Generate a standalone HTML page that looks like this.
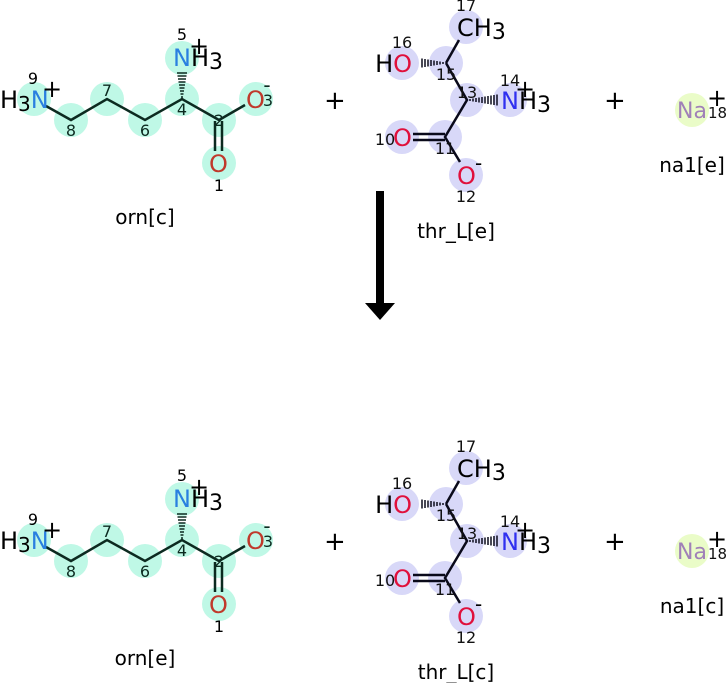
<!DOCTYPE html>
<html><head><meta charset="utf-8"><style>
html,body{margin:0;padding:0;background:#fff;}
svg{display:block;font-family:"DejaVu Sans","Liberation Sans",sans-serif;}
</style></head><body>
<svg width="726" height="683" viewBox="0 0 726 683" xmlns="http://www.w3.org/2000/svg">
<defs>
<g id="orn">
  <g fill="#bff8e6">
    <circle cx="34" cy="99" r="17"/><circle cx="71" cy="120" r="17"/><circle cx="107" cy="99" r="17"/>
    <circle cx="145" cy="120" r="17"/><circle cx="182" cy="99" r="17"/><circle cx="182" cy="58" r="17"/>
    <circle cx="219" cy="120" r="17"/><circle cx="256" cy="99" r="17"/><circle cx="219" cy="163" r="17"/>
  </g>
  <g stroke="#0c2a20" stroke-width="2.5" fill="none">
    <polyline points="46,106 71,120 107,99 145,120 182,99 219,120 245,105"/>
    <line x1="215" y1="121" x2="215" y2="151"/><line x1="222" y1="121" x2="222" y2="151"/>
  </g>
  <g stroke="#0c2a20" stroke-width="1.5">
    <line x1="181" y1="97" x2="183" y2="97"/><line x1="180.5" y1="94" x2="183.5" y2="94"/>
    <line x1="180" y1="91" x2="184" y2="91"/><line x1="179.5" y1="88" x2="184.5" y2="88"/>
    <line x1="179" y1="85" x2="185" y2="85"/><line x1="178.5" y1="82" x2="185.5" y2="82"/>
    <line x1="178" y1="79" x2="186" y2="79"/><line x1="177.5" y1="76" x2="186.5" y2="76"/>
    <line x1="177" y1="73" x2="187" y2="73"/>
  </g>
  <g font-size="24">
    <text x="0" y="108">H<tspan font-size="20" dy="3">3</tspan><tspan fill="#2a7fe0" dy="-3">N</tspan></text>
    <text x="42" y="97">+</text>
    <text x="173" y="66" fill="#2a7fe0">N<tspan fill="#000">H</tspan><tspan fill="#000" font-size="22" dy="3">3</tspan></text>
    <text x="189" y="54">+</text>
    <text x="246" y="108" fill="#c0392b">O</text>
    <text x="209" y="172" fill="#c0392b">O</text>
  </g>
  <g font-size="16" fill="#0c2a20" text-anchor="middle">
    <text x="33" y="84" fill="#000">9</text><text x="71" y="136">8</text><text x="107" y="96">7</text>
    <text x="145" y="136">6</text><text x="182" y="115">4</text><text x="182" y="40" fill="#000">5</text>
    <text x="219" y="126">2</text><text x="268" y="106">3</text><text x="267" y="92" font-size="20">-</text>
    <text x="219" y="191" fill="#000">1</text>
  </g>
</g>
<g id="thr">
  <g fill="#d8d8f8">
    <circle cx="466" cy="27" r="17"/><circle cx="446" cy="63" r="17"/><circle cx="402" cy="63" r="17"/>
    <circle cx="467" cy="100" r="17"/><circle cx="510" cy="100" r="17"/><circle cx="445" cy="137" r="17"/>
    <circle cx="402" cy="137" r="17"/><circle cx="466" cy="175" r="17"/>
  </g>
  <g stroke="#0a0a1a" stroke-width="2.5" fill="none">
    <line x1="459" y1="40" x2="446" y2="63"/><polyline points="446,63 467,100 445,137 460,162"/>
    <line x1="413" y1="134" x2="445" y2="134"/><line x1="413" y1="140" x2="445" y2="140"/>
  </g>
  <g stroke="#0a0a1a" stroke-width="1.5">
    <line x1="443" y1="62" x2="443" y2="64"/><line x1="440" y1="61.5" x2="440" y2="64.5"/>
    <line x1="437" y1="61" x2="437" y2="65"/><line x1="434" y1="60.5" x2="434" y2="65.5"/>
    <line x1="431" y1="60" x2="431" y2="66"/><line x1="428" y1="59.5" x2="428" y2="66.5"/>
    <line x1="425" y1="59" x2="425" y2="67"/><line x1="422" y1="58.5" x2="422" y2="67.5"/>
    <line x1="470" y1="99" x2="470" y2="101"/><line x1="473" y1="98.5" x2="473" y2="101.5"/>
    <line x1="476" y1="98" x2="476" y2="102"/><line x1="479" y1="97.5" x2="479" y2="102.5"/>
    <line x1="482" y1="97" x2="482" y2="103"/><line x1="485" y1="96.5" x2="485" y2="103.5"/>
    <line x1="488" y1="96" x2="488" y2="104"/><line x1="491" y1="95.5" x2="491" y2="104.5"/>
    <line x1="494" y1="95" x2="494" y2="105"/><line x1="497" y1="94.5" x2="497" y2="105.5"/>
  </g>
  <g font-size="24">
    <text x="457" y="36">CH<tspan font-size="22" dy="3">3</tspan></text>
    <text x="412" y="72" text-anchor="end">H<tspan fill="#e0103c">O</tspan></text>
    <text x="501" y="109" fill="#3030f0">N<tspan fill="#000">H</tspan><tspan fill="#000" font-size="22" dy="3">3</tspan></text>
    <text x="515" y="97">+</text>
    <text x="393" y="146" fill="#e0103c">O</text>
    <text x="457" y="184" fill="#e0103c">O</text>
    <text x="475" y="170" font-size="20">-</text>
  </g>
  <g font-size="16" fill="#111" text-anchor="middle">
    <text x="466" y="11">17</text><text x="402" y="48">16</text><text x="446" y="80">15</text>
    <text x="467" y="98">13</text><text x="510" y="86">14</text><text x="385" y="145">10</text>
    <text x="445" y="154">11</text><text x="466" y="202">12</text>
  </g>
</g>
<g id="na">
  <circle cx="692" cy="110" r="17" fill="#eafcc8"/>
  <text x="692" y="118" font-size="22" fill="#a080b8" text-anchor="middle">Na</text>
  <text x="707" y="106" font-size="24">+</text>
  <text x="708" y="118" font-size="15" fill="#111">18</text>
  <text x="324" y="109" font-size="26">+</text>
  <text x="604" y="109" font-size="26">+</text>
</g>
</defs>
<use href="#orn"/><use href="#thr"/><use href="#na"/>
<g transform="translate(0,441)"><use href="#orn"/><use href="#thr"/><use href="#na"/></g>
<g font-size="20" text-anchor="middle">
  <text x="145" y="224">orn[c]</text><text x="456" y="238">thr_L[e]</text><text x="692" y="172">na1[e]</text>
  <text x="145" y="665">orn[e]</text><text x="456" y="679">thr_L[c]</text><text x="692" y="613">na1[c]</text>
</g>
<rect x="376" y="191" width="8" height="114" fill="#000"/>
<polygon points="365,303 395,303 380,320" fill="#000"/>
</svg>
</body></html>
